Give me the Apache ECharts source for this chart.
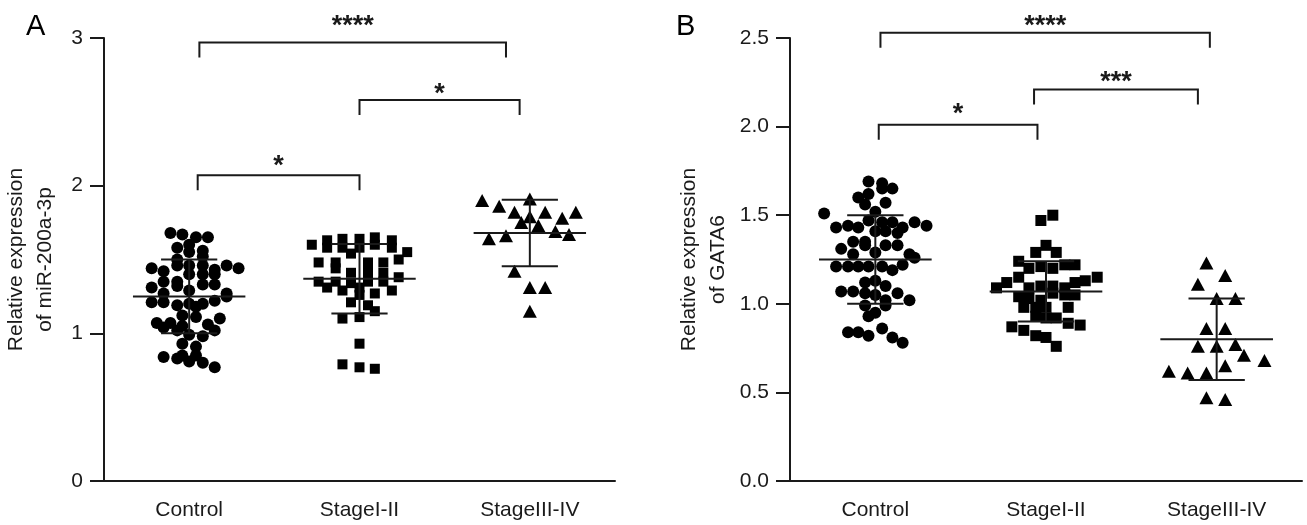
<!DOCTYPE html>
<html>
<head>
<meta charset="utf-8">
<script src="https://cdn.jsdelivr.net/npm/echarts@6/dist/echarts.min.js"></script>
<style>
html, body { margin: 0; padding: 0; background: #fff; }
#main { width: 1307px; height: 525px; }
</style>
</head>
<body>
<div id="main"></div>
<script>
// groups
var groups = ['Control', 'StageI-II', 'StageIII-IV'];

// panel A: [jitter, value]
var ctrlA = [
    [-0.11, 1.68], [-0.04, 1.67], [0.04, 1.65], [0.11, 1.65], [-0.07, 1.58], [0.00, 1.60],
    [0.08, 1.56], [0.00, 1.55], [0.08, 1.52], [-0.07, 1.50], [-0.07, 1.46], [0.00, 1.46],
    [0.08, 1.46], [-0.22, 1.44], [-0.15, 1.42], [0.22, 1.46], [0.29, 1.44], [0.15, 1.43],
    [0.15, 1.40], [0.00, 1.40], [0.08, 1.40], [-0.15, 1.35], [-0.07, 1.35], [-0.07, 1.32],
    [0.08, 1.33], [0.15, 1.33], [-0.22, 1.31], [0.00, 1.29], [-0.15, 1.27], [0.22, 1.27],
    [0.22, 1.25], [-0.22, 1.21], [-0.15, 1.21], [-0.07, 1.19], [0.00, 1.20], [0.04, 1.18],
    [0.08, 1.20], [0.15, 1.22], [-0.04, 1.12], [0.04, 1.11], [0.18, 1.10], [-0.19, 1.07],
    [-0.15, 1.04], [-0.11, 1.07], [-0.07, 1.02], [-0.04, 1.05], [0.11, 1.06], [0.15, 1.02],
    [0.00, 0.99], [0.08, 0.98], [-0.04, 0.93], [0.04, 0.91], [-0.15, 0.84], [-0.07, 0.83],
    [-0.04, 0.85], [0.00, 0.81], [0.04, 0.85], [0.08, 0.80], [0.15, 0.77]
];
var stage12A = [
    [-0.28, 1.60], [-0.19, 1.63], [-0.19, 1.58], [-0.10, 1.64], [-0.10, 1.58], [0.00, 1.64],
    [0.00, 1.58], [0.09, 1.65], [0.09, 1.60], [0.19, 1.63], [0.19, 1.58], [0.28, 1.55],
    [-0.05, 1.54], [0.23, 1.50], [-0.24, 1.48], [-0.14, 1.48], [-0.14, 1.44], [0.05, 1.48],
    [0.05, 1.44], [0.05, 1.40], [0.14, 1.48], [-0.05, 1.41], [0.14, 1.41], [0.23, 1.38],
    [-0.24, 1.35], [-0.14, 1.35], [-0.05, 1.34], [0.05, 1.35], [0.14, 1.35], [-0.19, 1.31],
    [-0.10, 1.29], [0.00, 1.31], [0.19, 1.29], [0.09, 1.27], [0.00, 1.26], [-0.05, 1.21],
    [0.05, 1.19], [0.09, 1.15], [0.00, 1.11], [-0.10, 1.10], [0.00, 0.93], [-0.10, 0.79],
    [0.00, 0.77], [0.09, 0.76]
];
var stage34A = [
    [-0.28, 1.90], [-0.18, 1.86], [0.00, 1.91], [-0.09, 1.82], [0.09, 1.82], [0.00, 1.79],
    [0.19, 1.78], [-0.05, 1.75], [0.05, 1.73], [0.15, 1.69], [0.23, 1.67], [0.27, 1.82],
    [-0.24, 1.64], [-0.14, 1.66], [-0.09, 1.42], [0.00, 1.31], [0.09, 1.31], [0.00, 1.15]
];
var meanA = [1.25, 1.37, 1.68];
var sdA = [0.25, 0.235, 0.225];

// panel B
var ctrlB = [
    [-0.04, 1.69], [0.04, 1.68], [0.10, 1.65], [0.04, 1.65], [-0.04, 1.62], [-0.10, 1.60],
    [-0.06, 1.56], [0.06, 1.57], [-0.30, 1.51], [0.00, 1.52], [-0.04, 1.47], [0.04, 1.46],
    [0.10, 1.46], [0.23, 1.46], [0.30, 1.44], [-0.23, 1.43], [-0.16, 1.44], [-0.10, 1.43],
    [0.16, 1.43], [0.00, 1.41], [0.06, 1.41], [0.13, 1.40], [-0.13, 1.35], [-0.06, 1.35],
    [-0.06, 1.33], [0.06, 1.33], [0.13, 1.33], [-0.20, 1.31], [0.00, 1.29], [-0.13, 1.28],
    [0.20, 1.28], [0.23, 1.26], [0.16, 1.22], [-0.23, 1.21], [-0.16, 1.21], [-0.10, 1.21],
    [-0.04, 1.21], [0.04, 1.21], [0.10, 1.19], [-0.06, 1.12], [0.00, 1.13], [0.06, 1.10],
    [-0.20, 1.07], [-0.13, 1.07], [-0.06, 1.06], [0.00, 1.05], [0.13, 1.06], [0.06, 1.02],
    [0.20, 1.02], [-0.06, 0.99], [0.06, 0.99], [-0.04, 0.93], [0.00, 0.95], [-0.16, 0.84],
    [-0.10, 0.84], [-0.04, 0.82], [0.04, 0.86], [0.10, 0.81], [0.16, 0.78]
];
var stage12B = [
    [-0.03, 1.47], [0.04, 1.50], [0.00, 1.33], [-0.06, 1.29], [0.06, 1.29], [-0.16, 1.24],
    [-0.10, 1.20], [-0.03, 1.21], [0.04, 1.20], [0.11, 1.22], [0.17, 1.22], [-0.16, 1.15],
    [-0.23, 1.12], [-0.29, 1.09], [-0.10, 1.09], [-0.03, 1.10], [0.04, 1.10], [0.11, 1.09],
    [0.17, 1.12], [0.23, 1.13], [0.30, 1.15], [-0.16, 1.04], [-0.10, 1.03], [-0.03, 1.02],
    [0.04, 1.06], [0.11, 1.05], [0.17, 1.05], [-0.13, 0.98], [-0.06, 0.98], [0.00, 0.98],
    [0.13, 0.98], [-0.06, 0.93], [0.00, 0.92], [0.06, 0.92], [-0.20, 0.87], [-0.13, 0.85],
    [-0.06, 0.82], [0.00, 0.81], [0.13, 0.89], [0.20, 0.88], [0.06, 0.76]
];
var stage34B = [
    [-0.06, 1.23], [0.05, 1.16], [-0.11, 1.11], [0.00, 1.03], [0.11, 1.03], [-0.06, 0.86],
    [0.05, 0.86], [-0.11, 0.76], [0.00, 0.76], [0.11, 0.77], [0.16, 0.71], [0.28, 0.68],
    [0.05, 0.65], [-0.28, 0.62], [-0.17, 0.61], [-0.06, 0.61], [-0.06, 0.47], [0.05, 0.46]
];
var meanB = [1.25, 1.07, 0.80];
var sdB = [0.25, 0.17, 0.23];

// significance brackets: [from group, to group], bracket level, star level, stars
var spanA = [[0.06, 1.86], [1.0, 1.94], [0.05, 1.0]];
var levelA = [2.97, 2.58, 2.07];
var starA = [3.12, 2.66, 2.17];
var textA = ['****', '*', '*'];

var spanB = [[0.03, 1.96], [0.93, 1.89], [0.02, 0.95]];
var levelB = [2.53, 2.21, 2.01];
var starB = [2.60, 2.28, 2.10];
var textB = ['****', '***', '*'];

var ink = '#1a1a1a';
var font = "'Liberation Sans', Arial, sans-serif";

function jitter(arr, idx) {
    return arr.map(function (p) { return [idx + p[0], p[1]]; });
}

// mean line + SD whiskers
function errorBars(means, sds, axisIdx) {
    return {
        type: 'custom',
        xAxisIndex: axisIdx * 2,
        yAxisIndex: axisIdx,
        z: 5,
        data: means.map(function (m, i) { return [i, m, sds[i]]; }),
        renderItem: function (params, api) {
            var x = api.value(0), m = api.value(1), s = api.value(2);
            var seg = function (x1, y1, x2, y2) {
                var a = api.coord([x1, y1]), b = api.coord([x2, y2]);
                return { type: 'line', shape: { x1: a[0], y1: a[1], x2: b[0], y2: b[1] },
                    style: { stroke: ink, lineWidth: 2 } };
            };
            return { type: 'group', children: [
                seg(x - 0.33, m, x + 0.33, m),
                seg(x - 0.165, m + s, x + 0.165, m + s),
                seg(x - 0.165, m - s, x + 0.165, m - s),
                seg(x, m - s, x, m + s)
            ] };
        }
    };
}

function brackets(spans, levels, stars, texts, axisIdx) {
    return {
        type: 'custom',
        xAxisIndex: axisIdx * 2,
        yAxisIndex: axisIdx,
        clip: false,
        data: spans.map(function (s, i) { return [s[0], s[1], levels[i], stars[i]]; }),
        renderItem: function (params, api) {
            var a = api.coord([api.value(0), api.value(2)]);
            var b = api.coord([api.value(1), api.value(2)]);
            var t = api.coord([(api.value(0) + api.value(1)) / 2, api.value(3)]);
            return { type: 'group', children: [
                { type: 'polyline', shape: { points: [[a[0], a[1] + 15], a, b, [b[0], b[1] + 15]] },
                    style: { stroke: ink, lineWidth: 2, fill: null } },
                { type: 'text', style: { text: texts[params.dataIndex], x: t[0], y: t[1] + 6,
                    align: 'center', verticalAlign: 'middle', fill: ink,
                    font: 'bold 27px ' + font } }
            ] };
        }
    };
}

function scatter(arr, idx, symbol, size, axisIdx) {
    return {
        type: 'scatter',
        xAxisIndex: axisIdx * 2,
        yAxisIndex: axisIdx,
        symbol: symbol,
        symbolSize: size,
        itemStyle: { color: '#000', opacity: 1 },
        data: jitter(arr, idx)
    };
}

var axisLine = { show: true, onZero: false, lineStyle: { color: ink, width: 2 } };
var label = { color: ink, fontSize: 21, fontFamily: font };

function xAxes(gridIdx) {
    return [
        { type: 'value', gridIndex: gridIdx, position: 'top', min: -0.5, max: 2.5, show: false },
        { type: 'category', gridIndex: gridIdx, position: 'bottom', data: groups, boundaryGap: true,
          axisLine: axisLine, axisTick: { alignWithLabel: true, length: 13, lineStyle: { color: ink, width: 2 } },
          axisLabel: Object.assign({ margin: 19 }, label) }
    ];
}

var myChart = echarts.init(document.getElementById('main'));
var option = {
    backgroundColor: '#fff',
    animation: false,
    title: [
        { text: 'A', left: 21, top: 7, textStyle: { fontSize: 29, fontWeight: 'normal', color: '#000', fontFamily: font } },
        { text: 'B', left: 671, top: 7, textStyle: { fontSize: 29, fontWeight: 'normal', color: '#000', fontFamily: font } }
    ],
    grid: [
        { left: 104, top: 38, width: 511, height: 443 },
        { left: 790, top: 38, width: 512, height: 443 }
    ],
    xAxis: xAxes(0).concat(xAxes(1)),
    yAxis: [
        { type: 'value', gridIndex: 0, position: 'left', min: 0, max: 3, interval: 1,
          name: 'Relative expression\nof miR-200a-3p', nameLocation: 'middle', nameGap: 44,
          nameTextStyle: Object.assign({ lineHeight: 29 }, label),
          axisLine: axisLine, axisTick: { show: true, length: 14, lineStyle: { color: ink, width: 2 } },
          splitLine: { show: false }, axisLabel: Object.assign({ margin: 21 }, label) },
        { type: 'value', gridIndex: 1, position: 'left', min: 0, max: 2.5, interval: 0.5,
          name: 'Relative expression\nof GATA6', nameLocation: 'middle', nameGap: 57,
          nameTextStyle: Object.assign({ lineHeight: 29 }, label),
          axisLine: axisLine, axisTick: { show: true, length: 14, lineStyle: { color: ink, width: 2 } },
          splitLine: { show: false },
          axisLabel: Object.assign({ margin: 21, formatter: function (v) { return v.toFixed(1); } }, label) }
    ],
    series: [
        scatter(ctrlA, 0, 'circle', 12, 0),
        scatter(stage12A, 1, 'rect', 10, 0),
        scatter(stage34A, 2, 'triangle', [14, 13], 0),
        errorBars(meanA, sdA, 0),
        brackets(spanA, levelA, starA, textA, 0),
        scatter(ctrlB, 0, 'circle', 12, 1),
        scatter(stage12B, 1, 'rect', 11, 1),
        scatter(stage34B, 2, 'triangle', [14, 13], 1),
        errorBars(meanB, sdB, 1),
        brackets(spanB, levelB, starB, textB, 1)
    ]
};
myChart.setOption(option);
</script>
</body>
</html>
